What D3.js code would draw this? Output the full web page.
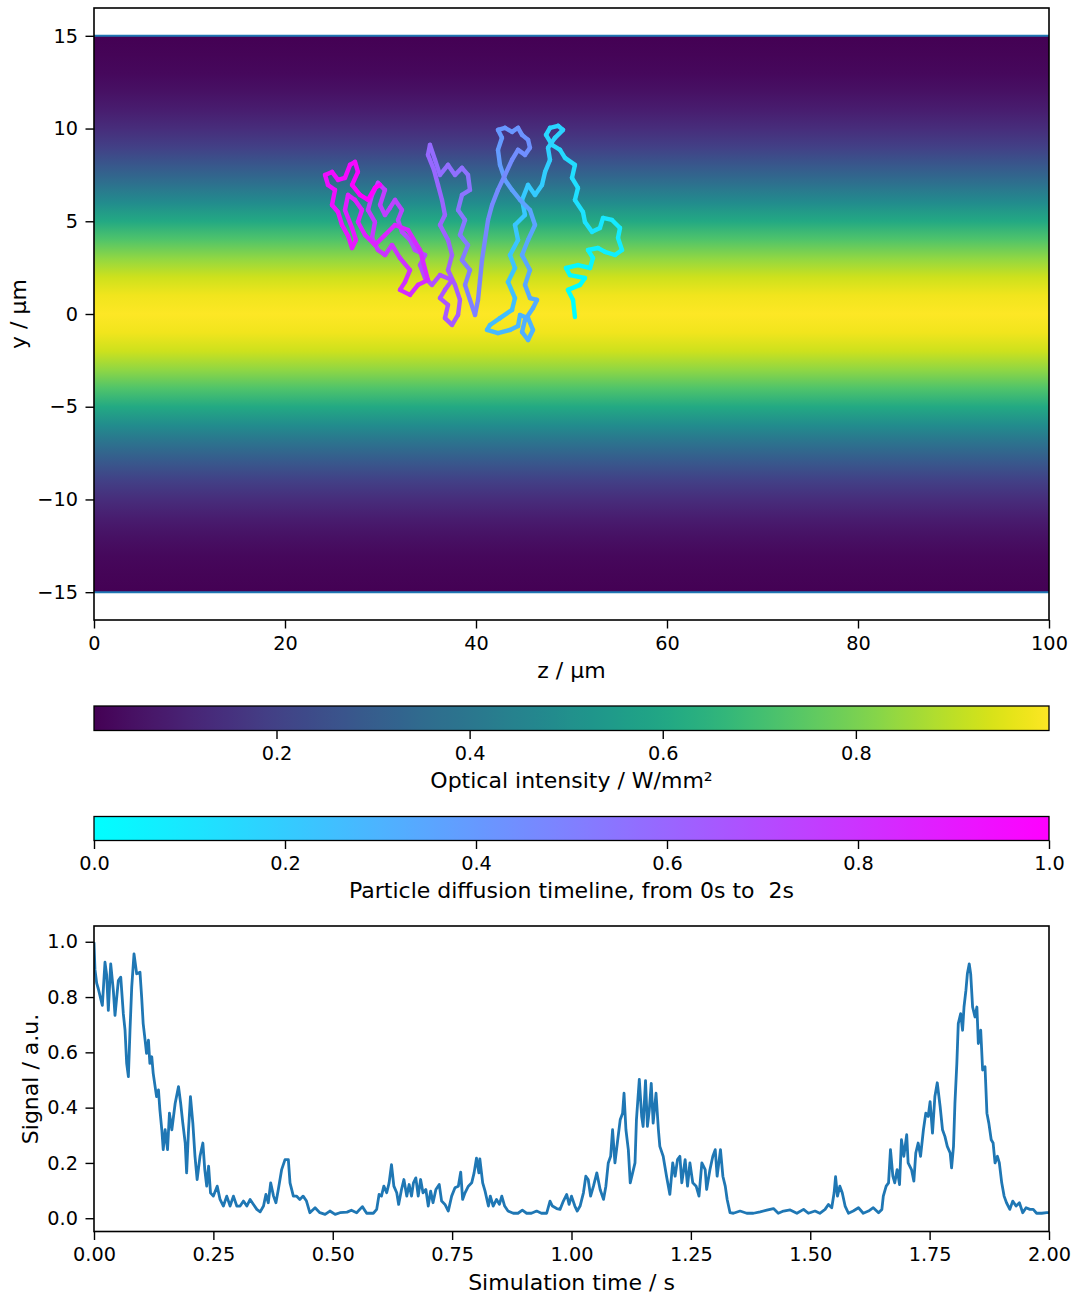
<!DOCTYPE html>
<html>
<head>
<meta charset="utf-8">
<script src="https://cdn.jsdelivr.net/npm/d3@7"></script>
<style>
  html, body { margin: 0; padding: 0; background: #fff; }
  svg { display: block; font-family: "DejaVu Sans", sans-serif; }
</style>
</head>
<body>
<svg id="chart" width="1076" height="1294"></svg>
<script>
// ---------------- DATA ----------------
// Optical intensity profile across the channel (y in µm -> intensity W/mm²)
const intensityY = [-15,-14,-13,-12,-11,-10,-9,-8,-7,-6,-5,-4,-3,-2,-1,0,1,2,3,4,5,6,7,8,9,10,11,12,13,14,15];
const intensityV = [0.011,0.02,0.034,0.056,0.089,0.135,0.198,0.278,0.375,0.487,0.607,0.726,0.835,0.923,0.98,1.0,
                    0.98,0.923,0.835,0.726,0.607,0.487,0.375,0.278,0.198,0.135,0.089,0.056,0.034,0.02,0.011];
const channelWalls = [-15, 15];

// Particle trajectory (z, y in µm), in time order
const trajZ = [50.36,50.16,49.63,50.89,51.41,49.84,49.42,50.68,51.94,52.25,51.73,52.77,53.51,54.55,55.29,54.87,55.08,54.24,53.30,52.98,52.15,51.41,51.20,50.36,50.68,50.05,50.36,49.32,48.80,47.96,47.33,47.75,48.59,49.11,48.27,47.54,47.75,47.23,46.91,
  46.18,45.45,44.82,45.13,44.08,44.40,43.56,44.08,43.35,44.08,43.77,42.51,41.47,41.15,42.30,43.56,44.40,44.61,45.45,45.97,45.45,44.82,45.13,45.97,46.39,45.65,45.13,45.65,44.82,45.45,46.18,45.65,44.61,43.77,
  43.04,42.51,42.30,42.72,42.30,43.04,43.77,44.40,44.82,45.45,45.65,45.13,44.40,43.77,43.04,42.30,41.68,41.26,40.94,40.63,40.42,40.21,39.90,
  39.37,38.85,39.37,38.53,39.16,38.32,38.85,38.12,38.53,39.37,39.16,38.53,37.80,37.07,36.23,35.71,35.18,34.97,35.60,36.02,36.44,36.75,36.23,37.07,37.49,37.07,37.80,38.32,38.12,37.49,36.75,37.07,36.23,36.75,37.49,
  36.23,35.39,34.66,34.14,34.66,33.61,33.09,32.25,31.83,32.25,31.52,30.99,30.47,29.95,30.47,29.74,29.11,28.69,29.42,29.11,29.74,30.47,31.20,32.04,33.09,32.57,32.04,33.09,33.93,34.97,
  34.14,32.88,31.52,30.47,29.42,28.38,27.64,28.06,27.33,26.60,26.28,27.02,27.43,27.02,26.60,25.97,25.55,24.92,25.24,24.50,24.19,24.92,25.55,26.28,26.81,27.33,27.64,27.02,27.85,28.69,29.42,29.95];
const trajY = [-0.16,0.76,1.30,1.57,1.94,2.10,2.48,2.64,2.48,3.02,3.45,3.56,3.35,3.18,3.45,4.10,4.64,5.07,5.18,4.64,4.43,4.96,5.50,6.15,6.80,7.34,8.04,8.42,8.85,9.12,9.66,10.04,10.15,9.93,9.50,8.96,8.31,7.66,6.96,
  6.42,6.96,6.15,5.34,4.80,3.99,3.18,2.48,1.73,0.86,0.22,-0.22,-0.59,-0.86,-1.03,-0.86,-0.65,-0.05,-0.22,-0.86,-1.40,-0.97,-0.32,0.32,0.76,0.86,1.57,2.37,3.18,3.99,4.80,5.61,6.15,6.69,
  7.23,8.04,8.85,9.50,9.93,10.04,9.82,10.04,9.66,9.39,8.96,8.58,8.85,8.31,7.50,6.69,5.88,5.07,3.99,2.91,1.83,0.76,-0.05,
  0.76,1.57,2.37,2.91,3.72,4.26,5.07,5.61,6.42,6.69,7.50,7.88,7.50,8.04,7.50,8.31,9.12,8.58,7.77,6.96,6.15,5.34,4.80,3.99,3.18,2.37,1.57,0.76,-0.05,-0.59,-0.22,0.49,0.86,1.30,1.83,
  2.10,1.57,1.94,2.64,3.18,3.45,3.99,4.43,5.07,5.61,6.15,5.72,5.34,5.88,6.69,7.07,6.42,5.61,4.96,4.10,3.45,3.18,3.72,3.02,2.37,1.73,1.30,1.03,1.57,1.83,
  3.45,4.53,4.80,4.26,3.72,4.26,4.96,5.61,6.15,6.42,5.61,4.64,3.99,3.56,4.21,4.80,5.50,5.88,6.69,6.96,7.50,7.66,7.23,7.34,8.04,8.20,7.66,6.96,6.42,6.15,6.80,6.96];

// Detected signal vs simulation time
const signalT = [0,0.002,0.0056,0.009,0.016,0.0175,0.023,0.0265,0.030,0.035,0.0405,0.044,0.051,0.056,0.0614,0.065,0.0684,0.072,0.0754,0.079,0.0838,0.0894,0.0963,0.0998,0.103,0.107,0.110,0.114,0.117,0.121,0.124,0.128,0.131,0.135,0.138,0.142,0.145,0.149,0.154,0.158,0.163,0.170,0.177,0.1815,0.186,0.191,0.194,0.198,0.202,0.207,0.2115,0.216,0.222,0.228,0.232,0.236,0.240,0.244,0.250,0.258,0.264,0.271,0.278,0.285,0.292,0.299,0.306,0.313,0.320,0.327,0.334,0.341,0.348,0.355,0.360,0.365,0.370,0.376,0.381,0.386,0.393,0.400,0.407,0.4105,0.4175,0.424,0.431,0.438,0.445,0.452,0.463,0.473,0.484,0.494,0.505,
  0.515,0.53,0.539,0.55,0.562,0.571,0.585,0.592,0.597,0.602,0.607,0.613,0.618,0.623,0.628,0.634,0.638,0.644,0.649,0.655,0.660,0.665,0.669,0.674,0.679,0.684,0.689,0.695,0.700,0.705,0.710,0.716,0.723,0.728,0.735,0.742,0.749,0.756,0.763,0.768,0.772,0.777,0.784,0.791,0.796,0.801,0.806,0.808,0.814,0.819,0.826,0.830,0.836,0.843,0.849,0.854,0.860,0.867,0.878,0.888,0.897,0.906,0.916,0.927,0.937,0.948,0.955,0.960,0.969,0.976,0.983,0.990,0.995,1.000,1.007,
  1.012,1.018,1.025,1.030,1.035,1.040,1.046,1.053,1.060,1.067,1.072,1.077,1.082,1.086,1.091,1.096,1.102,1.107,1.110,1.114,1.119,1.123,1.128,1.133,1.136,1.142,1.147,1.150,1.155,1.159,1.163,1.167,1.171,1.177,1.182,1.185,1.192,1.199,1.206,1.212,1.217,1.222,1.227,1.231,1.238,1.243,1.248,1.254,1.261,1.267,1.273,1.280,1.283,1.290,1.296,1.301,1.305,1.312,1.317,1.322,1.326,1.332,1.339,1.353,1.367,1.381,1.395,1.409,1.423,1.433,1.444,1.458,1.472,1.486,1.496,1.510,
  1.520,1.531,1.538,1.545,1.550,1.553,1.557,1.562,1.567,1.573,1.580,1.590,1.601,1.611,1.622,1.632,1.643,1.650,1.653,1.659,1.664,1.668,1.673,1.677,1.682,1.687,1.691,1.696,1.702,1.705,1.712,1.717,1.721,1.726,1.731,1.737,1.742,1.747,1.751,1.756,1.761,1.766,1.772,1.777,1.782,1.787,1.793,1.796,1.800,1.803,1.807,1.810,1.815,1.819,1.822,1.826,1.829,1.833,1.836,1.840,1.845,1.849,1.852,1.857,1.861,1.866,1.870,1.874,1.879,1.883,1.887,1.892,1.896,1.901,1.906,1.911,1.918,1.924,1.931,1.938,1.945,1.952,1.960,1.967,1.974,1.985,1.995,2.0];
const signalS = [0.998,0.90,0.85,0.83,0.78,0.77,0.926,0.88,0.752,0.92,0.824,0.734,0.86,0.872,0.74,0.68,0.56,0.512,0.68,0.836,0.956,0.884,0.89,0.80,0.704,0.644,0.596,0.644,0.56,0.584,0.524,0.476,0.44,0.464,0.392,0.32,0.248,0.32,0.248,0.38,0.32,0.416,0.476,0.416,0.344,0.272,0.164,0.32,0.44,0.344,0.224,0.14,0.224,0.272,0.176,0.116,0.188,0.092,0.08,0.116,0.068,0.044,0.08,0.044,0.08,0.044,0.044,0.062,0.044,0.068,0.05,0.032,0.023,0.044,0.086,0.056,0.128,0.08,0.056,0.104,0.176,0.212,0.212,0.128,0.08,0.08,0.068,0.08,0.062,0.02,0.038,0.02,0.014,0.026,0.014,
  0.02,0.022,0.029,0.02,0.042,0.018,0.018,0.032,0.086,0.08,0.116,0.092,0.128,0.194,0.116,0.092,0.05,0.104,0.14,0.08,0.122,0.08,0.128,0.146,0.08,0.14,0.092,0.104,0.044,0.098,0.056,0.104,0.122,0.062,0.05,0.026,0.08,0.11,0.116,0.167,0.068,0.092,0.116,0.128,0.164,0.217,0.164,0.215,0.128,0.098,0.044,0.08,0.044,0.068,0.05,0.08,0.044,0.026,0.018,0.018,0.029,0.018,0.018,0.026,0.018,0.018,0.062,0.044,0.035,0.032,0.062,0.086,0.05,0.08,0.044,
  0.026,0.044,0.092,0.152,0.14,0.08,0.116,0.164,0.104,0.068,0.116,0.2,0.224,0.32,0.2,0.272,0.356,0.38,0.452,0.32,0.248,0.128,0.164,0.2,0.356,0.502,0.368,0.332,0.498,0.332,0.392,0.488,0.344,0.452,0.32,0.26,0.224,0.152,0.086,0.2,0.152,0.212,0.224,0.128,0.212,0.116,0.2,0.128,0.116,0.08,0.2,0.176,0.104,0.176,0.224,0.248,0.152,0.248,0.152,0.116,0.068,0.02,0.018,0.026,0.018,0.018,0.023,0.029,0.035,0.018,0.026,0.03,0.018,0.032,0.018,0.026,
  0.018,0.032,0.05,0.038,0.092,0.15,0.08,0.116,0.092,0.044,0.018,0.026,0.038,0.018,0.026,0.038,0.02,0.032,0.08,0.116,0.128,0.248,0.152,0.128,0.176,0.122,0.284,0.224,0.302,0.2,0.176,0.134,0.236,0.272,0.224,0.32,0.38,0.368,0.422,0.308,0.44,0.49,0.404,0.32,0.296,0.26,0.236,0.182,0.26,0.416,0.56,0.704,0.74,0.68,0.764,0.824,0.884,0.92,0.884,0.764,0.728,0.764,0.632,0.68,0.536,0.548,0.38,0.344,0.284,0.272,0.2,0.224,0.2,0.128,0.08,0.056,0.032,0.062,0.044,0.056,0.02,0.038,0.032,0.032,0.018,0.018,0.02,0.02];

// Tick labels
const zTicks = [0,20,40,60,80,100];
const yTicks = [-15,-10,-5,0,5,10,15];
const intensityTicks = [0.2,0.4,0.6,0.8];
const timelineTicks = [0.0,0.2,0.4,0.6,0.8,1.0];
const timeTicks = [0,0.25,0.5,0.75,1.0,1.25,1.5,1.75,2.0];
const signalTicks = [0,0.2,0.4,0.6,0.8,1.0];

// ---------------- DRAW ----------------
const svg = d3.select("#chart");
const defs = svg.append("defs");
const FS = 19.3, LFS = 22, TICK = 8.5, PAD = 7.5;
const L = 94, R = 1049;
const blue = "#1f77b4";

const vmin = d3.min(intensityV), vmax = d3.max(intensityV);
const viridisNorm = v => d3.interpolateViridis((v - vmin) / (vmax - vmin));
const cool = t => d3.rgb(255 * t, 255 * (1 - t), 255).toString();

function styleAxis(g) {
  g.select(".domain").remove();
  g.selectAll(".tick line").attr("stroke", "#000").attr("stroke-width", 1.4);
  g.selectAll(".tick text").attr("font-size", FS).attr("fill", "#000").attr("font-family", "DejaVu Sans");
}

// ---- Top panel ----
const T1 = 8, B1 = 620;
const xz = d3.scaleLinear().domain([0, 100]).range([L, R]);
const yy = d3.scaleLinear().domain([-16.5, 16.5]).range([B1, T1]);

const bgGrad = defs.append("linearGradient").attr("id", "bg")
  .attr("gradientUnits", "userSpaceOnUse")
  .attr("x1", 0).attr("x2", 0).attr("y1", yy(15)).attr("y2", yy(-15));
const bgStops = intensityY.map((yv, i) => ({
  off: (yy(yv) - yy(15)) / (yy(-15) - yy(15)),
  col: viridisNorm(intensityV[i])
})).sort((a, b) => a.off - b.off);
bgStops.forEach(s => bgGrad.append("stop").attr("offset", s.off).attr("stop-color", s.col));
svg.append("rect").attr("x", xz(0)).attr("width", xz(100) - xz(0))
  .attr("y", yy(15)).attr("height", yy(-15) - yy(15)).attr("fill", "url(#bg)");

svg.selectAll("line.wall").data(channelWalls).join("line").attr("class", "wall")
  .attr("x1", xz(0)).attr("x2", xz(100)).attr("y1", d => yy(d)).attr("y2", d => yy(d))
  .attr("stroke", blue).attr("stroke-width", 2);

// trajectory
const clipTop = defs.append("clipPath").attr("id", "clipTop");
clipTop.append("rect").attr("x", L).attr("y", T1).attr("width", R - L).attr("height", B1 - T1);
const n = trajZ.length;
const segs = d3.range(n - 1);
svg.append("g").attr("clip-path", "url(#clipTop)")
  .selectAll("line").data(segs).join("line")
  .attr("x1", i => xz(trajZ[i])).attr("y1", i => yy(trajY[i]))
  .attr("x2", i => xz(trajZ[i + 1])).attr("y2", i => yy(trajY[i + 1]))
  .attr("stroke", i => cool(i / (n - 2)))
  .attr("stroke-width", 4.4).attr("stroke-linecap", "round");

svg.append("g").attr("transform", `translate(0,${B1})`)
  .call(d3.axisBottom(xz).tickValues(zTicks).tickSize(TICK).tickPadding(PAD).tickFormat(d3.format("d")))
  .call(styleAxis);
svg.append("g").attr("transform", `translate(${L},0)`)
  .call(d3.axisLeft(yy).tickValues(yTicks).tickSize(TICK).tickPadding(PAD).tickFormat(d3.format("d")))
  .call(styleAxis);
svg.append("rect").attr("x", L).attr("y", T1).attr("width", R - L).attr("height", B1 - T1)
  .attr("fill", "none").attr("stroke", "#000").attr("stroke-width", 1.6);

svg.append("text").attr("x", (L + R) / 2).attr("y", 670).attr("dy", "0.35em")
  .attr("text-anchor", "middle").attr("font-size", LFS).text("z / µm");
svg.append("text").attr("transform", "translate(18,314) rotate(-90)").attr("dy", "0.35em")
  .attr("text-anchor", "middle").attr("font-size", LFS).text("y / µm");

// ---- Colorbar 1 (intensity, viridis) ----
const cb1T = 706, cb1B = 730.5;
const xc1 = d3.scaleLinear().domain([vmin, vmax]).range([L, R]);
const g1 = defs.append("linearGradient").attr("id", "cb1").attr("x1", 0).attr("x2", 1).attr("y1", 0).attr("y2", 0);
d3.range(0, 1.0001, 0.02).forEach(f => g1.append("stop").attr("offset", f).attr("stop-color", d3.interpolateViridis(f)));
svg.append("rect").attr("x", L).attr("y", cb1T).attr("width", R - L).attr("height", cb1B - cb1T)
  .attr("fill", "url(#cb1)").attr("stroke", "#000").attr("stroke-width", 1.3);
svg.append("g").attr("transform", `translate(0,${cb1B})`)
  .call(d3.axisBottom(xc1).tickValues(intensityTicks).tickSize(TICK).tickPadding(PAD).tickFormat(d3.format(".1f")))
  .call(styleAxis);
svg.append("text").attr("x", (L + R) / 2).attr("y", 780).attr("dy", "0.35em")
  .attr("text-anchor", "middle").attr("font-size", LFS).text("Optical intensity / W/mm²");

// ---- Colorbar 2 (timeline, cool) ----
const cb2T = 816.5, cb2B = 840.5;
const xc2 = d3.scaleLinear().domain([0, 1]).range([L, R]);
const g2 = defs.append("linearGradient").attr("id", "cb2").attr("x1", 0).attr("x2", 1).attr("y1", 0).attr("y2", 0);
d3.range(0, 1.0001, 0.1).forEach(f => g2.append("stop").attr("offset", f).attr("stop-color", cool(f)));
svg.append("rect").attr("x", L).attr("y", cb2T).attr("width", R - L).attr("height", cb2B - cb2T)
  .attr("fill", "url(#cb2)").attr("stroke", "#000").attr("stroke-width", 1.3);
svg.append("g").attr("transform", `translate(0,${cb2B})`)
  .call(d3.axisBottom(xc2).tickValues(timelineTicks).tickSize(TICK).tickPadding(PAD).tickFormat(d3.format(".1f")))
  .call(styleAxis);
svg.append("text").attr("x", (L + R) / 2).attr("y", 890).attr("dy", "0.35em")
  .attr("text-anchor", "middle").attr("font-size", LFS).attr("xml:space", "preserve")
  .style("white-space", "pre").text("Particle diffusion timeline, from 0s to  2s");

// ---- Bottom panel (signal) ----
const T3 = 926, B3 = 1231.5;
const xt = d3.scaleLinear().domain([0, 2]).range([L, R]);
const ys = d3.scaleLinear().domain([-0.048, 1.057]).range([B3, T3]);
const clipBot = defs.append("clipPath").attr("id", "clipBot");
clipBot.append("rect").attr("x", L).attr("y", T3).attr("width", R - L).attr("height", B3 - T3);
const line = d3.line().x(i => xt(signalT[i])).y(i => ys(signalS[i]));
svg.append("path").attr("clip-path", "url(#clipBot)")
  .attr("d", line(d3.range(signalT.length)))
  .attr("fill", "none").attr("stroke", blue).attr("stroke-width", 2.8).attr("stroke-linejoin", "round");

svg.append("g").attr("transform", `translate(0,${B3})`)
  .call(d3.axisBottom(xt).tickValues(timeTicks).tickSize(TICK).tickPadding(PAD).tickFormat(d3.format(".2f")))
  .call(styleAxis);
svg.append("g").attr("transform", `translate(${L},0)`)
  .call(d3.axisLeft(ys).tickValues(signalTicks).tickSize(TICK).tickPadding(PAD).tickFormat(d3.format(".1f")))
  .call(styleAxis);
svg.append("rect").attr("x", L).attr("y", T3).attr("width", R - L).attr("height", B3 - T3)
  .attr("fill", "none").attr("stroke", "#000").attr("stroke-width", 1.6);

svg.append("text").attr("x", (L + R) / 2).attr("y", 1282).attr("dy", "0.35em")
  .attr("text-anchor", "middle").attr("font-size", LFS).text("Simulation time / s");
svg.append("text").attr("transform", "translate(30,1079) rotate(-90)").attr("dy", "0.35em")
  .attr("text-anchor", "middle").attr("font-size", LFS).text("Signal / a.u.");
</script>
</body>
</html>
